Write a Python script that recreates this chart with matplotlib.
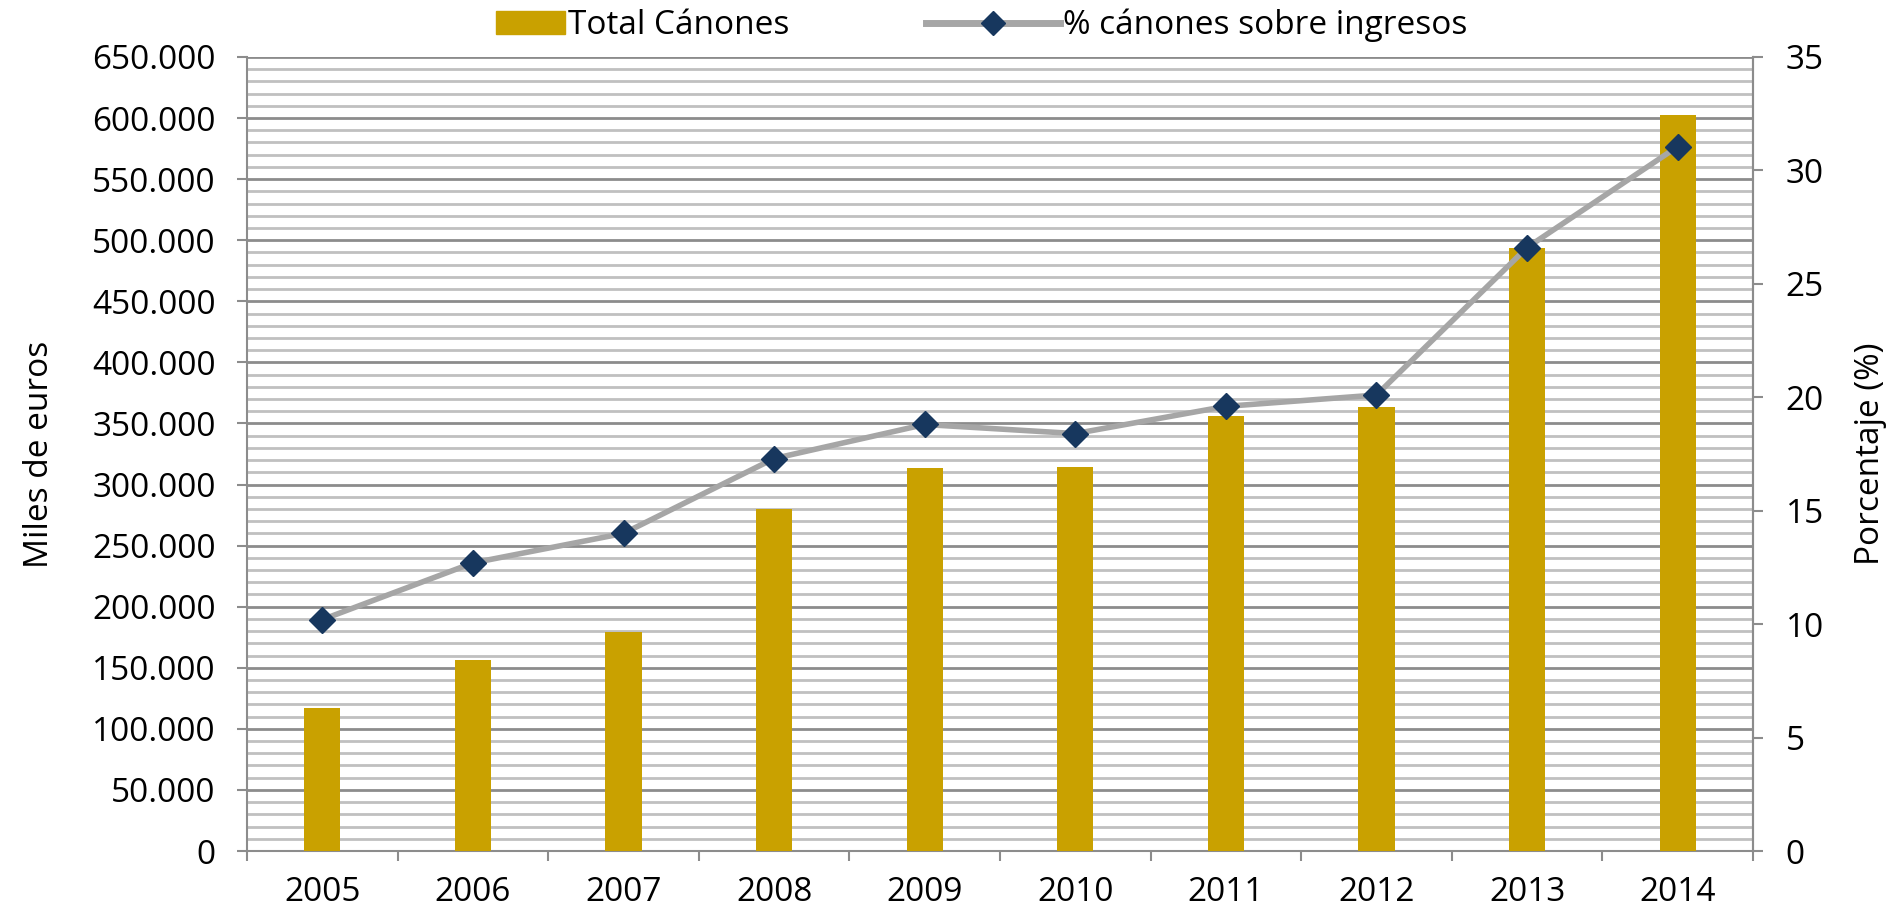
import matplotlib
matplotlib.use("Agg")
import matplotlib.pyplot as plt
import matplotlib.patches as mpatches
from matplotlib.legend_handler import HandlerPatch
from matplotlib.lines import Line2D
from matplotlib.ticker import FuncFormatter, MultipleLocator
import numpy as np

years = ["2005", "2006", "2007", "2008", "2009", "2010", "2011", "2012", "2013", "2014"]
total_canones = [117000, 156500, 179500, 280000, 313500, 314500, 356000, 363500, 494000, 602500]
pct_canones = [10.2, 12.7, 14.0, 17.3, 18.8, 18.4, 19.6, 20.1, 26.6, 31.05]

BAR_COLOR = "#C9A100"
LINE_COLOR = "#A6A6A6"
MARKER_COLOR = "#17375E"
MAJOR_GRID = "#8C8C8C"
MINOR_GRID = "#C0C0C0"

plt.rcParams["font.family"] = ["Open Sans", "DejaVu Sans"]
FS = 24

fig = plt.figure(figsize=(18.99, 9.13), dpi=100)
ax = fig.add_axes([0.1301, 0.0679, 0.7930, 0.8697])
x = np.arange(len(years))

ax.bar(x, total_canones, width=0.24, color=BAR_COLOR, zorder=3)
ax.set_xlim(-0.5, len(years) - 0.5)
ax.set_ylim(0, 650000)
ax.yaxis.set_major_locator(MultipleLocator(50000))
ax.yaxis.set_minor_locator(MultipleLocator(10000))
ax.yaxis.set_major_formatter(FuncFormatter(lambda v, _: f"{int(v):,}".replace(",", ".")))
ax.set_axisbelow(True)
ax.grid(axis="y", which="major", color=MAJOR_GRID, linewidth=2.0)
ax.grid(axis="y", which="minor", color=MINOR_GRID, linewidth=2.0)

ax.set_xticks(x)
ax.set_xticklabels(years)
ax.set_xticks(np.arange(len(years) + 1) - 0.5, minor=True)
ax.tick_params(axis="x", which="major", length=0, labelsize=FS, pad=18)
ax.tick_params(axis="x", which="minor", length=7.5, width=1.5, color=MAJOR_GRID, direction="out")
ax.tick_params(axis="y", which="major", length=7.5, width=1.5, color=MAJOR_GRID, labelsize=FS, pad=15)
ax.tick_params(axis="y", which="minor", length=0)
ax.set_ylabel("Miles de euros", fontsize=FS, labelpad=26)

ax.spines["top"].set_visible(False)
for side in ["left", "bottom", "right"]:
    ax.spines[side].set_color(MAJOR_GRID)
    ax.spines[side].set_linewidth(1.5)

ax2 = ax.twinx()
ax2.plot(x, pct_canones, color=LINE_COLOR, linewidth=4, marker="D", markersize=13,
         markerfacecolor=MARKER_COLOR, markeredgecolor=MARKER_COLOR, zorder=4)
ax2.set_ylim(0, 35)
ax2.yaxis.set_major_locator(MultipleLocator(5))
ax2.tick_params(axis="y", which="major", length=7.5, width=1.5, color=MAJOR_GRID, labelsize=FS, pad=16)
ax2.set_ylabel("Porcentaje (%)", fontsize=FS, labelpad=22)
for side in ["top", "left", "bottom"]:
    ax2.spines[side].set_visible(False)
ax2.spines["right"].set_color(MAJOR_GRID)
ax2.spines["right"].set_linewidth(1.5)


def narrow_patch(legend, orig_handle, xdescent, ydescent, width, height, fontsize):
    # the bar swatch is about half as wide as the line handle
    w = width * 0.52
    return mpatches.Rectangle((-xdescent + width - w, -ydescent), w, height)


bar_handle = mpatches.Patch(color=BAR_COLOR, label="Total Cánones")
line_handle = Line2D([], [], color=LINE_COLOR, linewidth=5, marker="D", markersize=12,
                     markerfacecolor=MARKER_COLOR, markeredgecolor=MARKER_COLOR,
                     label="% cánones sobre ingresos")
fig.legend(handles=[bar_handle, line_handle], loc="center", bbox_to_anchor=(0.5, 0.972),
           ncol=2, frameon=False, fontsize=FS, handlelength=4.0, handleheight=0.7,
           handletextpad=0.1, columnspacing=4.1,
           handler_map={mpatches.Patch: HandlerPatch(patch_func=narrow_patch)})

fig.savefig("out.png", dpi=100)
